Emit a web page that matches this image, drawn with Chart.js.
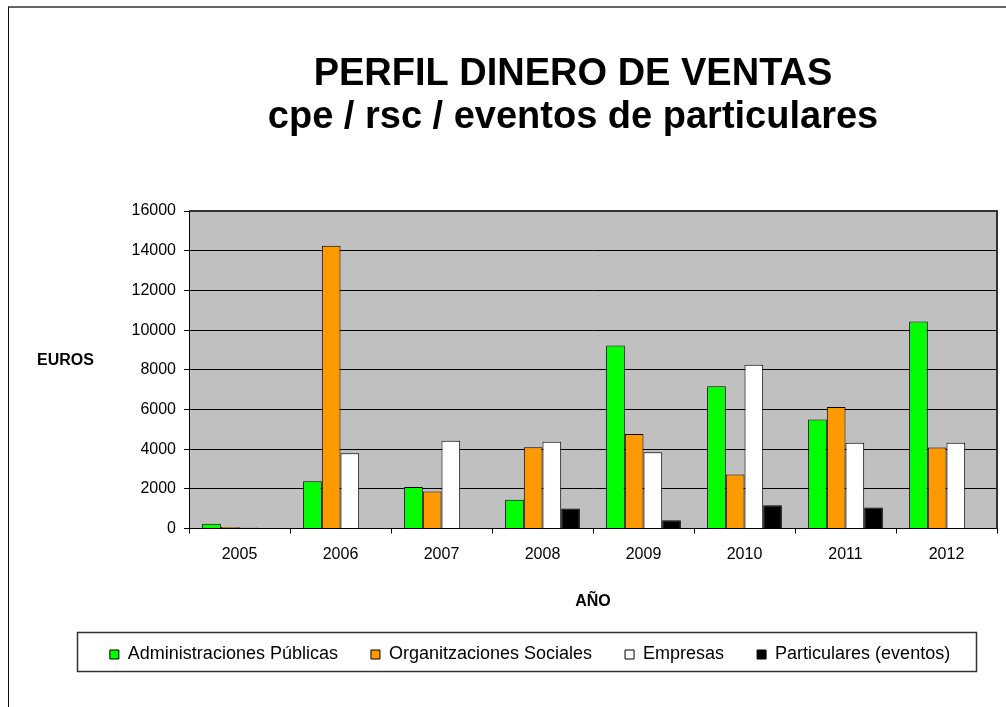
<!DOCTYPE html>
<html lang="es">
<head>
<meta charset="utf-8">
<title>Perfil dinero de ventas</title>
<script src="https://cdn.jsdelivr.net/npm/chart.js@4.4.1/dist/chart.umd.min.js"></script>
<style>
  html, body { margin: 0; padding: 0; background: #fff; overflow: hidden; }
  #marco { position: absolute; left: 8px; top: 6px; width: 1010px; height: 720px;
           border-top: 2px solid #666; border-left: 1px solid #111; }
  #caja { position: absolute; left: 0; top: 0; width: 1006px; height: 707px; }
</style>
</head>
<body>
<div id="marco"></div>
<div id="caja"><canvas id="grafico"></canvas></div>
<script>
/* Perfil de dinero de ventas por año y tipo de cliente. */

const titulo = ["PERFIL DINERO DE VENTAS", "cpe / rsc / eventos de particulares"];
const anos = ["2005", "2006", "2007", "2008", "2009", "2010", "2011", "2012"];

// valores (euros)
const administraciones = [250, 2390, 2100, 1450, 9220, 7170, 5490, 10430];
const organizaciones   = [80, 14250, 1870, 4100, 4770, 2720, 6130, 4080];
const empresas         = [60, 3800, 4430, 4370, 3850, 8250, 4320, 4320];
const particulares     = [null, null, null, 1010, 420, 1180, 1060, null];

const marcasEuros = [0, 2000, 4000, 6000, 8000, 10000, 12000, 14000, 16000];

const FUENTE = "'Liberation Sans', Arial, sans-serif";
Chart.defaults.font.family = FUENTE;
Chart.defaults.color = "#000";

// fondo gris del área de trazado + borde arriba/derecha
const fondoPlot = {
  id: "fondoPlot",
  beforeDraw(chart) {
    const { ctx, chartArea: a } = chart;
    ctx.save();
    ctx.fillStyle = "#c0c0c0";
    ctx.fillRect(a.left, a.top, a.width, a.height);
    ctx.restore();
  },
  afterDatasetsDraw(chart) {
    const { ctx, chartArea: a } = chart;
    ctx.save();
    ctx.strokeStyle = "#333";
    ctx.lineWidth = 2;
    ctx.beginPath();
    ctx.moveTo(a.left, a.top);
    ctx.lineTo(a.right, a.top);
    ctx.lineTo(a.right, a.bottom);
    ctx.stroke();
    ctx.restore();
  },
};

// título, rótulo EUROS y marco de la leyenda
const textos = {
  id: "textos",
  afterDraw(chart) {
    const { ctx } = chart;
    ctx.save();
    ctx.fillStyle = "#000";
    ctx.textAlign = "center";
    ctx.textBaseline = "alphabetic";
    ctx.font = `bold 38px ${FUENTE}`;
    ctx.fillText(titulo[0], 573, 85);
    ctx.fillText(titulo[1], 573, 128);

    ctx.textAlign = "left";
    ctx.textBaseline = "middle";
    ctx.font = `bold 16px ${FUENTE}`;
    ctx.fillText("EUROS", 37, 361);

    const hb = chart.legend.legendHitBoxes;
    if (hb && hb.length) {
      const izq = Math.min(...hb.map(h => h.left));
      const der = Math.max(...hb.map(h => h.left + h.width));
      const cy = hb[0].top + hb[0].height / 2;
      ctx.strokeStyle = "#333";
      ctx.lineWidth = 1.5;
      ctx.strokeRect(Math.round(izq - 33) + 0.5, Math.round(cy - 22.5) + 0.5,
                     Math.round(der - izq + 59), 39);
    }
    ctx.restore();
  },
};

function serie(label, data, color) {
  return { label, data, backgroundColor: color, borderColor: "#000", borderWidth: 1 };
}

new Chart(document.getElementById("grafico"), {
  type: "bar",
  data: {
    labels: anos,
    datasets: [
      serie("Administraciones Públicas", administraciones, "#00ff00"),
      serie("Organitzaciones Sociales", organizaciones, "#ff9900"),
      serie("Empresas", empresas, "#ffffff"),
      serie("Particulares (eventos)", particulares, "#000000"),
    ],
  },
  options: {
    responsive: true, maintainAspectRatio: false, animation: false,
    layout: { padding: { left: 63, right: 9, top: 211, bottom: 33.5 } },
    datasets: { bar: { categoryPercentage: 0.74, barPercentage: 1 } },
    scales: {
      x: {
        grid: { drawOnChartArea: false, color: "#000", tickLength: 5, offset: true },
        border: { color: "#000", width: 1 },
        ticks: { padding: 11, font: { size: 16 }, color: "#000" },
        title: { display: true, text: "AÑO", font: { size: 16, weight: "bold" },
                 padding: { top: 17, bottom: 1.5 }, color: "#000" },
      },
      y: {
        min: marcasEuros[0], max: marcasEuros[marcasEuros.length - 1],
        afterBuildTicks: s => { s.ticks = marcasEuros.map(v => ({ value: v })); },
        afterFit: s => { s.width = 126; },
        grid: { color: "#000", lineWidth: 1, tickLength: 5 },
        border: { color: "#000", width: 1 },
        ticks: { padding: 8, font: { size: 16 }, color: "#000", callback: v => String(v) },
      },
    },
    plugins: {
      legend: {
        position: "bottom",
        labels: { boxWidth: 9, boxHeight: 9, padding: 33, color: "#000",
                  font: { size: 18 } },
      },
      tooltip: { enabled: false },
    },
  },
  plugins: [fondoPlot, textos],
});
</script>
</body>
</html>
